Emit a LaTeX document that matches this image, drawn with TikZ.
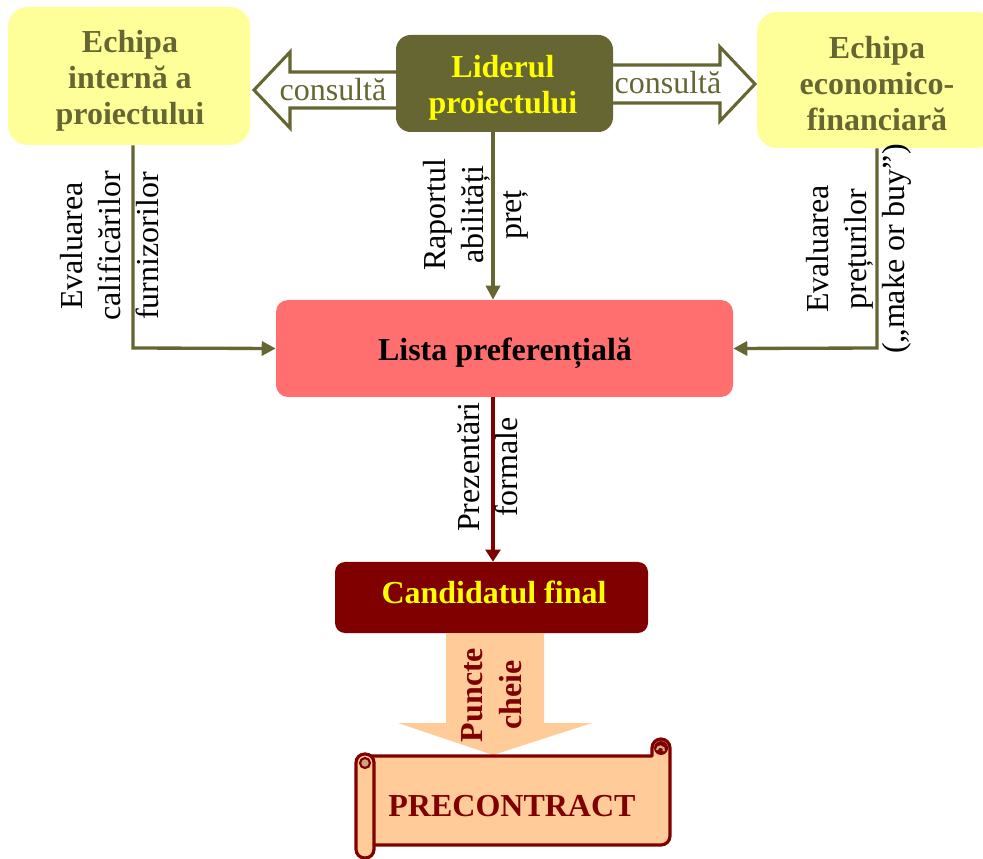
\documentclass[tikz,border=0pt]{standalone}
\usepackage{fontspec}
\setmainfont{Liberation Serif}
\usetikzlibrary{arrows.meta,calc}

\definecolor{oliveDk}{HTML}{666633}
\definecolor{paleYellow}{HTML}{FFFF99}
\definecolor{brightYellow}{HTML}{FFFF00}
\definecolor{salmonRed}{HTML}{FF6F6F}
\definecolor{maroonDk}{HTML}{800000}
\definecolor{peach}{HTML}{FFCC99}

\tikzset{
  boldtext/.style={font=\fontsize{24}{27}\selectfont\bfseries, align=center,
                   inner sep=0pt},
  teambox/.style={fill=paleYellow, rounded corners=15pt, inner sep=0pt},
  leaderbox/.style={fill=oliveDk, rounded corners=11pt, inner sep=0pt},
  listbox/.style={fill=salmonRed, rounded corners=9pt, inner sep=0pt},
  finalbox/.style={fill=maroonDk, rounded corners=7.5pt, inner sep=0pt},
  flowlabel/.style={font=\fontsize{24}{28.5}\selectfont, align=center, rotate=90,
                    inner sep=0pt},
  consultlabel/.style={font=\fontsize{24}{27}\selectfont, text=oliveDk, inner sep=0pt},
  olivelink/.style={draw=oliveDk, line width=2.5pt,
                    -{Triangle[length=10.5pt,width=10.5pt]}},
  maroonlink/.style={draw=maroonDk, line width=2.5pt,
                     -{Triangle[length=9pt,width=11pt]}},
  hollowarrow/.style={draw=oliveDk, fill=white, line width=2.3pt, line join=miter},
  scrollpart/.style={draw=maroonDk, fill=peach, line width=2.4pt, line join=round},
}

\begin{document}
\begin{tikzpicture}[x=0.75pt, y=-0.75pt]
  \useasboundingbox (0,0) rectangle (983,859);
  \clip (0,0) rectangle (983,859);

  % hollow "consultă" arrows behind the leader box
  \path[hollowarrow] (254,90) -- (290,52) -- (290,72) -- (405,72)
        -- (405,108) -- (290,108) -- (290,128) -- cycle;
  \path[hollowarrow] (755,84) -- (720,47) -- (720,65) -- (605,65)
        -- (605,103) -- (720,103) -- (720,121) -- cycle;

  % boxes
  \node[teambox, minimum width=242*0.75pt, minimum height=138*0.75pt]
    (intern) at (129,76) {};
  \node[boldtext, text=oliveDk] (interntext) at (130,81)
    {Echipa\\intern\u{a} a\\proiectului};
  \node[teambox, minimum width=240*0.75pt, minimum height=136*0.75pt]
    (econ) at (877,80) {};
  \node[boldtext, text=oliveDk] (econtext) at (877,84)
    {Echipa\\economico-\\financiar\u{a}};
  \node[leaderbox, minimum width=217*0.75pt, minimum height=97*0.75pt]
    (leader) at (504.5,83.5) {};
  \node[boldtext, text=brightYellow] (leadertext) at (503,88)
    {Liderul\\proiectului};
  \node[listbox, minimum width=457*0.75pt, minimum height=97*0.75pt]
    (lista) at (504.5,348.5) {};
  \node[boldtext, text=black] (listatext) at (505,353) {Lista preferențială};
  \node[finalbox, minimum width=313*0.75pt, minimum height=71*0.75pt]
    (final) at (491.5,597.5) {};
  \node[boldtext, text=brightYellow] (finaltext) at (494,592)
    {Candidatul final};

  % consultă labels
  \node[consultlabel] (consL) at (333,90) {consultă};
  \node[consultlabel] (consR) at (668,83) {consultă};

  % connector routing points
  \coordinate (leftturn) at (133,348);
  \coordinate (rightturn) at (877,348);
  \coordinate (midline) at (493,0);

  % connectors into the preference list
  \draw[olivelink] (intern.south -| leftturn) -- (leftturn) -- (lista.west);
  \draw[olivelink] (econ.south -| rightturn) -- (rightturn) -- (lista.east);
  \draw[olivelink] (leader.south -| midline) -- (lista.north -| midline);
  \draw[maroonlink] (lista.south -| midline) -- (final.north -| midline);

  % connector labels
  \node[flowlabel] (evalQ) at (110,246)
    {Evaluarea\\calificărilor\\furnizorilor};
  \node[flowlabel] (evalP) at (859,249)
    {Evaluarea\\prețurilor\\(„make or buy”)};
  \node[flowlabel] (ratio) at (476,215) {Raportul\\abilități\\preț};
  \node[flowlabel] (present) at (488,467) {Prezentări\\formale};

  % block arrow toward the precontract
  \fill[peach] (446,633) -- (544,633) -- (544,723) -- (592,723) -- (493,755)
        -- (398,723) -- (446,723) -- cycle;
  \node[flowlabel, font=\fontsize{24}{29}\selectfont\bfseries, text=maroonDk]
    (keys) at (492,695) {Puncte\\cheie};

  % scroll body
  \path[scrollpart] (365,756) -- (652,756) -- (652,748)
        arc[start angle=180, end angle=360, radius=9]
        -- (670,836) arc[start angle=0, end angle=90, radius=9]
        -- (365,845) -- cycle;
  % right curl
  \fill[maroonDk] (661,748) circle[radius=7];
  \draw[peach!85!black, line width=1.6pt] (657,750)
        arc[start angle=180, end angle=380, radius=3.5];
  % left roll
  \draw[scrollpart, rounded corners=6.5pt] (356,754) rectangle (374,858);
  \draw[maroonDk, line width=1.6pt, fill=peach!80!black] (365,763) circle[radius=5];
  \node[boldtext, text=maroonDk] (precontract) at (512,806) {PRECONTRACT};
\end{tikzpicture}
\end{document}
